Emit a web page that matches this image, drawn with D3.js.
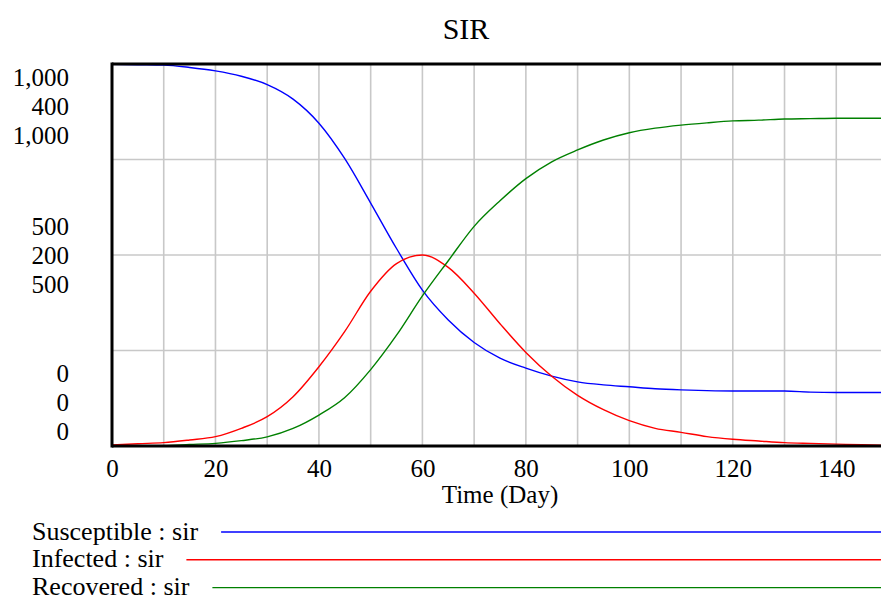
<!DOCTYPE html>
<html>
<head>
<meta charset="utf-8">
<script src="https://cdn.jsdelivr.net/npm/d3@7"></script>
<style>
  html, body { margin: 0; padding: 0; background: #fff; }
  svg { display: block; }
  text { font-family: "Liberation Serif", "Times New Roman", serif; fill: #000; }
</style>
</head>
<body>
<svg id="chart" width="881" height="601"></svg>
<script>
// ---- data ----
const title = "SIR";
const xLabel = "Time (Day)";
const days = [0,5,10,15,20,25,30,35,40,45,50,55,60,65,70,75,80,85,90,95,100,105,110,115,120,125,130,135,140,145,150];
const susceptible = [999,998,997,991,982,968,946,908,845,752,636,517,408,330,271,230,204,183,168,160,155,150,147,145,144,144,144,141,140,140,140];
const infected = [1,2.4,3.5,6.3,9.8,18.5,30.7,51.6,83,120,162,191,200,187,160,128,98,73,53,38,26.5,18.5,14.3,9.8,7,5.2,3.5,2.7,2,1.3,0.7];
const recovered = [0,0.5,1,4,7,14,24,46,81,127,200,290,393,485,575,642,700,744,775,801,820,832,840,846,851,853,856,857,858,858,858];
const seriesNames = ["Susceptible : sir", "Infected : sir", "Recovered : sir"];
const seriesMax = [1000, 400, 1000];
const xTicks = [0,20,40,60,80,100,120,140];
const xDomain = [0,150];
const yGridDivisions = 4;
const colors = ["#0000ff", "#ff0000", "#008000"];

// ---- layout ----
const svg = d3.select("#chart");
const L = 112, T = 64, B = 446, R = 888;
const x = d3.scaleLinear().domain(xDomain).range([L, R]);
const yScales = seriesMax.map(m => d3.scaleLinear().domain([0, m]).range([B, T]));
const values = [susceptible, infected, recovered];

// grid
const grid = svg.append("g");
grid.selectAll("line.v").data(d3.range(10, 150, 10)).join("line")
  .attr("x1", d => x(d)).attr("x2", d => x(d)).attr("y1", T).attr("y2", B)
  .attr("stroke", "#c8c8c8").attr("stroke-width", 1.6);
const hGrid = d3.range(1, yGridDivisions).map(k => seriesMax[0] * k / yGridDivisions);
grid.selectAll("line.h").data(hGrid).join("line")
  .attr("x1", L).attr("x2", 881).attr("y1", d => yScales[0](d)).attr("y2", d => yScales[0](d))
  .attr("stroke", "#c8c8c8").attr("stroke-width", 1.6);

// series
const plot = svg.append("g");
values.forEach((vals, i) => {
  const line = d3.line().x((d, j) => x(days[j])).y(d => yScales[i](d)).curve(d3.curveMonotoneX);
  plot.append("path").datum(vals).attr("d", line)
    .attr("fill", "none").attr("stroke", colors[i]).attr("stroke-width", 1.4);
});

// frame
svg.append("line").attr("x1", L).attr("x2", 881).attr("y1", T).attr("y2", T).attr("stroke", "#000").attr("stroke-width", 3);
svg.append("line").attr("x1", L).attr("x2", 881).attr("y1", B).attr("y2", B).attr("stroke", "#000").attr("stroke-width", 3);
svg.append("line").attr("x1", L).attr("x2", L).attr("y1", T - 1.5).attr("y2", B + 1.5).attr("stroke", "#000").attr("stroke-width", 3);

// x axis
const xAxis = svg.append("g").attr("transform", `translate(0,${B})`)
  .call(d3.axisBottom(x).tickValues(xTicks).tickSize(0).tickPadding(13).tickFormat(d3.format("d")));
xAxis.select(".domain").remove();
xAxis.selectAll("text").style("font-family", '"Liberation Serif", serif').style("font-size", "25px").attr("fill", "#000");

svg.append("text").attr("x", x(75)).attr("y", 503).attr("text-anchor", "middle")
  .style("font-size", "25px").text(xLabel);

// y labels (stacked per series)
const fmt = d3.format(",");
const yl = svg.append("g").style("font-size", "25px").attr("text-anchor", "end");
const lh = 29;
yScales.forEach((s, i) => {
  const m = s.domain()[1];
  yl.append("text").attr("x", 69).attr("y", T + 22 + i * lh).text(fmt(m));
  yl.append("text").attr("x", 69).attr("y", s(m / 2) + 9 + (i - 1) * lh).text(fmt(m / 2));
  yl.append("text").attr("x", 69).attr("y", B - 6.5 - (2 - i) * lh).text(fmt(0));
});

// title
svg.append("text").attr("x", 466).attr("y", 39).attr("text-anchor", "middle")
  .style("font-size", "30px").text(title);

// legend
seriesNames.forEach((n, i) => {
  const yb = 539.5 + i * 27.8;
  const t = svg.append("text").attr("x", 32).attr("y", yb).style("font-size", "26px").text(n);
  const w = t.node().getComputedTextLength();
  svg.append("line").attr("x1", 32 + w + 23).attr("x2", 881)
    .attr("y1", yb - 7.5).attr("y2", yb - 7.5).attr("stroke", colors[i]).attr("stroke-width", 1.4);
});
</script>
</body>
</html>
